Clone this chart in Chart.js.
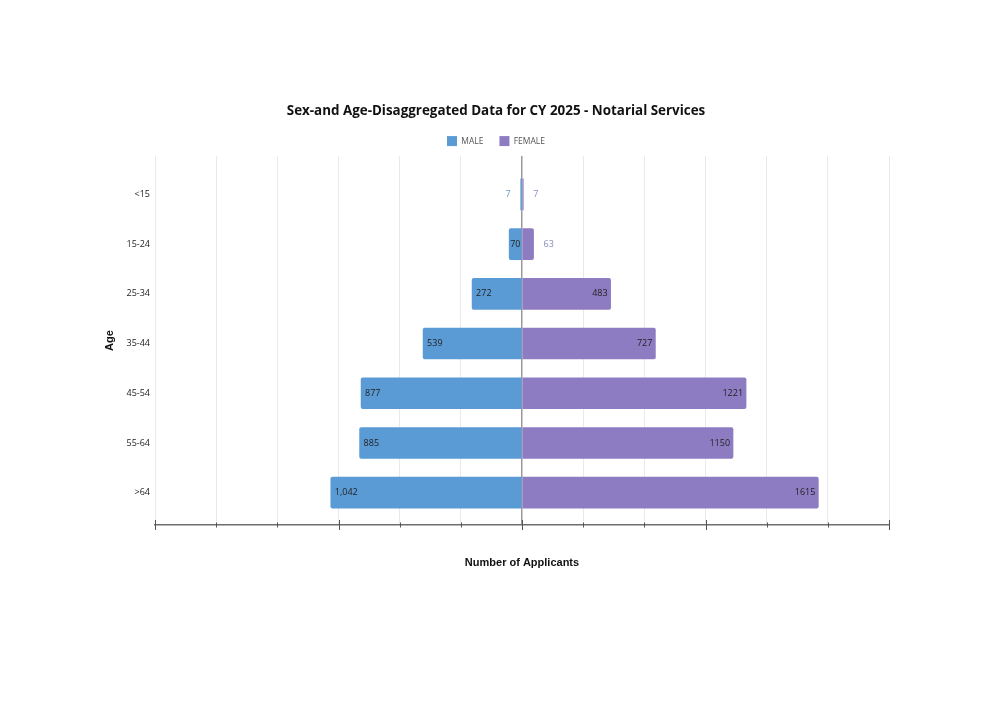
<!DOCTYPE html>
<html>
<head>
<meta charset="utf-8">
<title>Sex-and Age-Disaggregated Data for CY 2025 - Notarial Services</title>
<script src="https://cdn.jsdelivr.net/npm/chart.js@4.4.1/dist/chart.umd.min.js"></script>
<style>
    html, body { margin: 0; padding: 0; background: #ffffff; }
    #wrap { width: 1006px; height: 711px; position: relative; }
</style>
</head>
<body>
<div id="wrap"><canvas id="pyramid" width="1006" height="711"></canvas></div>
<script>
// <!-- DATA -->
const ageGroups = ['<15', '15-24', '25-34', '35-44', '45-54', '55-64', '>64'];
const maleCounts = [7, 70, 272, 539, 877, 885, 1042];
const femaleCounts = [7, 63, 483, 727, 1221, 1150, 1615];

const maleColor = '#5b9bd5';
const femaleColor = '#8e7cc3';

// small bars get their number outside the bar
const insideMin = 65;

// male bars go to the left, so they are stored negative
const maleData = maleCounts.map((v, i) => ({ x: -v, y: i }));
const femaleData = femaleCounts.map((v, i) => ({ x: v, y: i }));

// <!-- VALUE LABELS ON THE BARS -->
const barLabels = {
    id: 'barLabels',
    afterDatasetsDraw(chart) {
        const ctx = chart.ctx;
        ctx.save();
        ctx.font = '9px "Open Sans", sans-serif';
        ctx.textBaseline = 'middle';
        chart.data.datasets.forEach((ds, di) => {
            const meta = chart.getDatasetMeta(di);
            const counts = di === 0 ? maleCounts : femaleCounts;
            meta.data.forEach((bar, i) => {
                const v = counts[i];
                const text = di === 0 ? v.toLocaleString('en-US') : String(v);
                const inside = v >= insideMin;
                if (di === 0) {
                    // male: bar end is on the left
                    if (inside) {
                        ctx.textAlign = 'left';
                        ctx.fillStyle = '#222';
                        ctx.fillText(text, bar.x + (v < 100 ? 1 : 4), bar.y);
                    } else {
                        ctx.textAlign = 'right';
                        ctx.fillStyle = maleColor;
                        ctx.fillText(text, bar.x - 10, bar.y);
                    }
                } else {
                    if (inside) {
                        ctx.textAlign = 'right';
                        ctx.fillStyle = '#222';
                        ctx.fillText(text, bar.x - 3, bar.y);
                    } else {
                        ctx.textAlign = 'left';
                        ctx.fillStyle = '#8a8ac2';
                        ctx.fillText(text, bar.x + 10, bar.y);
                    }
                }
            });
        });
        ctx.restore();
    }
};

// <!-- TICK MARKS CROSSING THE BOTTOM AXIS -->
const axisTicks = {
    id: 'axisTicks',
    afterDraw(chart) {
        const xs = chart.scales.x;
        const ctx = chart.ctx;
        const y0 = chart.chartArea.bottom;
        ctx.save();
        ctx.strokeStyle = '#555';
        ctx.lineWidth = 1;
        xs.ticks.forEach((t, i) => {
            const px = Math.round(xs.getPixelForValue(t.value)) + 0.5;
            const len = i % 3 === 0 ? 5 : 2.5;
            ctx.beginPath();
            ctx.moveTo(px, y0 - len);
            ctx.lineTo(px, y0 + len);
            ctx.stroke();
        });
        ctx.restore();
    }
};

const ctx = document.getElementById('pyramid').getContext('2d');
new Chart(ctx, {
    type: 'bar',
    data: {
        datasets: [
            {
                label: 'MALE',
                data: maleData,
                backgroundColor: maleColor,
                borderRadius: 2,
                barThickness: 31
            },
            {
                label: 'FEMALE',
                data: femaleData,
                backgroundColor: femaleColor,
                borderRadius: 2,
                barThickness: 31
            }
        ]
    },
    plugins: [barLabels, axisTicks],
    options: {
        indexAxis: 'y',
        responsive: false,
        animation: false,
        devicePixelRatio: 1,
        layout: {
            padding: { top: 93, left: 103, right: 117, bottom: 141 }
        },
        scales: {
            x: {
                type: 'linear',
                stacked: true,
                min: -2000,
                max: 2000,
                ticks: { display: false, count: 13 },
                grid: {
                    drawTicks: false,
                    color: (c) => c.index === 6 ? '#9a9a9a' : '#e9e9e9',
                    lineWidth: (c) => c.index === 6 ? 1.5 : 1
                },
                border: { display: true, color: '#6e6e6e', width: 1.5 },
                title: {
                    display: true,
                    text: 'Number of Applicants',
                    color: '#111',
                    padding: 0,
                    font: { family: '"Liberation Sans", Arial, sans-serif', size: 11, weight: 'bold' }
                },
                afterFit: (s) => { s.height = 45; }
            },
            y: {
                type: 'linear',
                stacked: true,
                reverse: true,
                offset: false,
                min: -0.77,
                max: 6.65,
                ticks: {
                    stepSize: 1,
                    color: '#222',
                    padding: 5,
                    font: { family: '"Open Sans", sans-serif', size: 9 },
                    callback: (v) => Number.isInteger(v) && ageGroups[v] !== undefined ? ageGroups[v] : ''
                },
                grid: { display: false, drawTicks: false },
                border: { display: false },
                title: {
                    display: true,
                    text: 'Age',
                    color: '#111',
                    padding: 0,
                    font: { family: '"Liberation Sans", Arial, sans-serif', size: 11, weight: 'bold' }
                },
                afterFit: (s) => { s.width = 52; }
            }
        },
        plugins: {
            title: {
                display: true,
                text: 'Sex-and Age-Disaggregated Data for CY 2025 - Notarial Services',
                color: '#111',
                font: { family: '"Open Sans", sans-serif', size: 13.4, weight: 'bold' },
                padding: { top: 10, bottom: 1 }
            },
            legend: {
                display: true,
                position: 'top',
                labels: {
                    boxWidth: 10,
                    boxHeight: 10,
                    padding: 16,
                    color: '#555',
                    font: { family: '"Open Sans", sans-serif', size: 8.5 }
                }
            },
            tooltip: {
                callbacks: {
                    title: (items) => ageGroups[items[0].parsed.y],
                    label: (item) => item.dataset.label + ': ' + Math.abs(item.parsed.x)
                }
            }
        }
    }
});
</script>
</body>
</html>
